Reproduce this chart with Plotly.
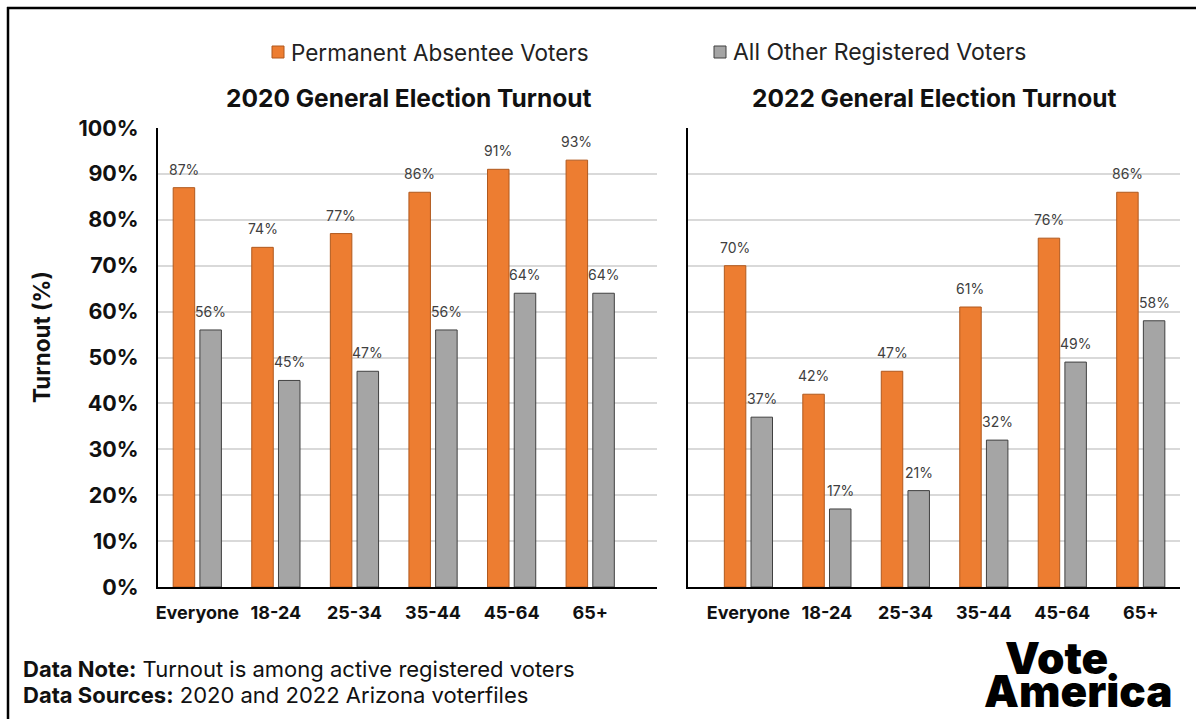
import plotly.graph_objects as go

# ---- data ----
categories = ["Everyone", "18-24", "25-34", "35-44", "45-64", "65+"]
pa_2020 = [87, 74, 77, 86, 91, 93]
other_2020 = [56, 45, 47, 56, 64, 64]
pa_2022 = [70, 42, 47, 61, 76, 86]
other_2022 = [37, 17, 21, 32, 49, 58]

series_names = ["Permanent Absentee Voters", "All Other Registered Voters"]
panel_titles = ["2020 General Election Turnout", "2022 General Election Turnout"]
y_ticks = list(range(0, 101, 10))
y_tick_labels = [f"{t}%" for t in y_ticks]

# ---- styling ----
W, H = 1196, 719
M_L, M_R, M_T, M_B = 158, 16, 128, 132
ORANGE, ORANGE_EDGE = "#ED7D31", "#B0591E"
GRAY, GRAY_EDGE = "#A5A5A5", "#404040"
FONT = "Inter"
INK = "#111111"
BARGAP, GROUPGAP = 0.32, 0.195


def px_x(p):
    return (p - M_L) / (W - M_L - M_R)


def px_y(p):
    return (H - M_B - p) / (H - M_T - M_B)


fig = go.Figure()

panels = [("x", "y", pa_2020, other_2020), ("x2", "y2", pa_2022, other_2022)]
for k, (xa, ya, pa, other) in enumerate(panels):
    fig.add_trace(go.Bar(
        x=categories, y=pa, name=series_names[0], xaxis=xa, yaxis=ya,
        marker=dict(color=ORANGE, line=dict(color=ORANGE_EDGE, width=1)),
        legendgroup="pa", showlegend=False, hoverinfo="x+y",
    ))
    fig.add_trace(go.Bar(
        x=categories, y=other, name=series_names[1], xaxis=xa, yaxis=ya,
        marker=dict(color=GRAY, line=dict(color=GRAY_EDGE, width=1)),
        legendgroup="other", showlegend=False, hoverinfo="x+y",
    ))

annotations = []
shapes = []

# value labels above each bar, offset to the bar's slot within its group
half_slot = (1 - BARGAP) / 4
for xa, ya, pa, other in panels:
    for i, (a, b) in enumerate(zip(pa, other)):
        for off, v in ((-half_slot, a), (half_slot, b)):
            annotations.append(dict(
                x=i + off, y=v, xref=xa, yref=ya, text=f"{v}%",
                showarrow=False, yanchor="bottom", yshift=8,
                font=dict(family=FONT, size=14, color="#404040"),
            ))

# legend row: swatch + label for each series
for name, fill, edge, sx, size in ((series_names[0], ORANGE, ORANGE_EDGE, 272, 22.5),
                                   (series_names[1], GRAY, GRAY_EDGE, 714, 23)):
    shapes.append(dict(
        type="rect", xref="paper", yref="paper",
        x0=px_x(sx), x1=px_x(sx + 12), y0=px_y(46), y1=px_y(58),
        fillcolor=fill, line=dict(color=edge, width=1),
    ))
    annotations.append(dict(
        x=px_x(sx + 17), y=px_y(52), xref="paper", yref="paper", text=name,
        showarrow=False, xanchor="left", yanchor="middle",
        font=dict(family=FONT, size=size, color="#222222"),
    ))

# panel titles
for title, cx in zip(panel_titles, (409, 934)):
    annotations.append(dict(
        x=px_x(cx), y=px_y(98), xref="paper", yref="paper",
        text=f"<b>{title}</b>", showarrow=False,
        xanchor="center", yanchor="middle",
        font=dict(family=FONT, size=24.5, color=INK),
    ))

# y-axis title
annotations.append(dict(
    x=px_x(41), y=px_y(337), xref="paper", yref="paper",
    text="<b>Turnout (%)</b>", textangle=-90, showarrow=False,
    xanchor="center", yanchor="middle",
    font=dict(family=FONT, size=22.5, color=INK),
))

# footer notes
for text, cy in (("<b>Data Note:</b> Turnout is among active registered voters", 669),
                 ("<b>Data Sources:</b> 2020 and 2022 Arizona voterfiles", 695)):
    annotations.append(dict(
        x=px_x(21), y=px_y(cy), xref="paper", yref="paper", text=text,
        showarrow=False, xanchor="left", yanchor="middle",
        font=dict(family=FONT, size=22, color=INK),
    ))

# wordmark
for word, cx, cy in (("Vote", 1056, 658), ("America", 1078, 691)):
    annotations.append(dict(
        x=px_x(cx), y=px_y(cy), xref="paper", yref="paper", text=word,
        showarrow=False, xanchor="center", yanchor="middle",
        font=dict(family="Inter", size=44, color="#000000", weight=900),
    ))

# outer frame (top and left edges)
shapes += [
    dict(type="line", xref="paper", yref="paper",
         x0=px_x(7), x1=px_x(W + 5), y0=px_y(8), y1=px_y(8),
         line=dict(color="#000000", width=2.5)),
    dict(type="line", xref="paper", yref="paper",
         x0=px_x(8), x1=px_x(8), y0=px_y(7), y1=px_y(H + 5),
         line=dict(color="#000000", width=2.5)),
]

x_common = dict(
    type="category", showline=True, linecolor="#000000", linewidth=2,
    showgrid=False, ticks="", ticklabelstandoff=8,
    tickfont=dict(family=FONT, size=18, color=INK, weight="bold"),
    fixedrange=True,
)
y_common = dict(
    range=[0, 100], tickmode="array", tickvals=y_ticks, ticktext=y_tick_labels,
    showgrid=True, gridcolor="#D9D9D9", gridwidth=1.5,
    showline=True, linecolor="#000000", linewidth=2,
    zeroline=False, ticks="", fixedrange=True,
)

fig.update_layout(
    width=W, height=H,
    margin=dict(l=M_L, r=M_R, t=M_T, b=M_B, pad=0),
    paper_bgcolor="#FFFFFF", plot_bgcolor="#FFFFFF",
    barmode="group", bargap=BARGAP, bargroupgap=GROUPGAP,
    font=dict(family=FONT, color=INK),
    showlegend=False,
    xaxis=dict(domain=[0, px_x(657)], range=[-0.5, 5.85], anchor="y", **x_common),
    xaxis2=dict(domain=[px_x(688), 1], range=[-0.77, 5.5], anchor="y2", **x_common),
    yaxis=dict(anchor="x", ticklabelstandoff=13,
               tickfont=dict(family=FONT, size=21.5, color=INK, weight="bold"),
               **y_common),
    yaxis2=dict(anchor="x2", matches="y", showticklabels=False, **y_common),
    annotations=annotations,
    shapes=shapes,
)

fig.write_html("out.html")
